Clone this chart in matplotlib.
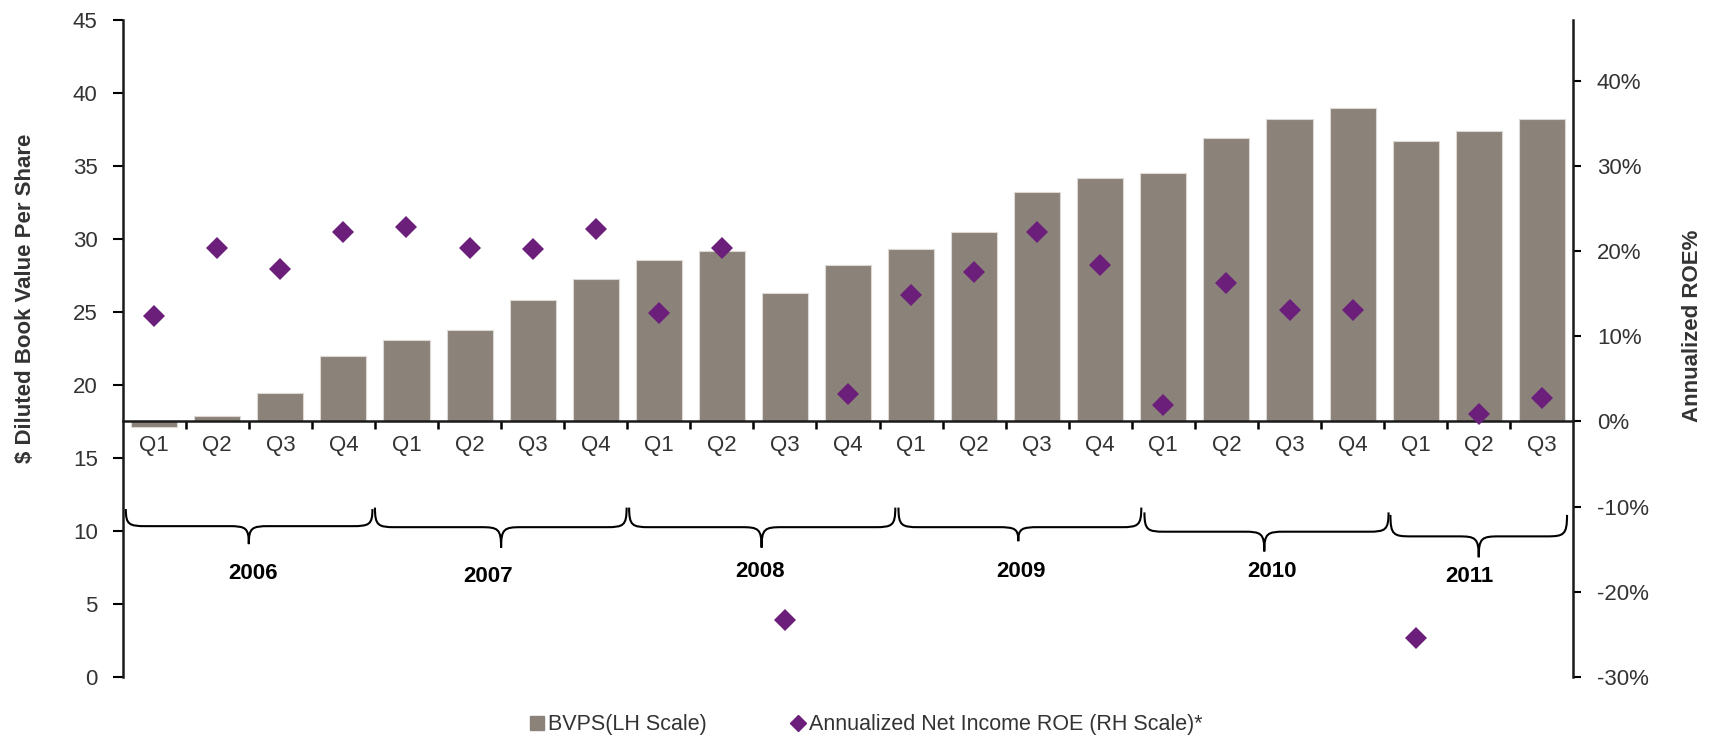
import matplotlib
matplotlib.use("Agg")
import matplotlib.pyplot as plt
from matplotlib.lines import Line2D
from matplotlib.path import Path
from matplotlib.patches import PathPatch
import numpy as np

quarters = ["Q1", "Q2", "Q3", "Q4"] * 5 + ["Q1", "Q2", "Q3"]
years = ["2006", "2007", "2008", "2009", "2010", "2011"]

# diluted book value per share, $ (left scale)
bvps = [17.1, 17.9, 19.45, 21.97, 23.04, 23.77, 25.8, 27.23,
        28.55, 29.14, 26.28, 28.19, 29.28, 30.46, 33.22, 34.15,
        34.54, 36.93, 38.23, 38.96, 36.68, 37.38, 38.23]

# annualized net income ROE, % (right scale)
roe = [12.35, 20.35, 17.85, 22.2, 22.8, 20.35, 20.2, 22.6,
       12.75, 20.4, -23.3, 3.26, 14.8, 17.5, 22.2, 18.3,
       1.9, 16.2, 13.1, 13.1, -25.4, 0.87, 2.7]

BAR_COLOR = "#8b8279"
DOT_COLOR = "#6b1f7b"
TEXT_COLOR = "#333333"
FONT = ["Liberation Sans", "DejaVu Sans"]
plt.rcParams["font.family"] = FONT

# bars grow from the 0% line of the right axis
BASE = 17.5
LEFT_MAX = 45.0
ROE_MIN = -30.0
ROE_MAX = ROE_MIN + LEFT_MAX * (-ROE_MIN) / BASE

# brace geometry per year: x start, x end, tip x, end y, line y, tip y (left units)
braces = [
    (0.05, 3.96, 2.0, 11.5, 10.33, 9.1),
    (4.0, 7.99, 6.0, 11.6, 10.26, 8.86),
    (8.03, 12.25, 10.13, 11.6, 10.26, 8.86),
    (12.3, 16.15, 14.2, 11.6, 10.26, 9.3),
    (16.2, 20.07, 18.1, 11.27, 9.95, 8.6),
    (20.1, 22.9, 21.5, 11.1, 9.63, 8.2),
]
year_pos = [(2.06, 7.1), (5.8, 6.85), (10.1, 7.25), (14.25, 7.25), (18.23, 7.2), (21.35, 6.9)]


def brace_path(x0, x1, xt, ye, yl, yt, r=0.32):
    verts = [
        (x0, ye), (x0, yl + 0.1), (x0 + 0.05, yl), (x0 + r, yl),
        (xt - r, yl),
        (xt - 0.05, yl), (xt, yl - 0.1), (xt, yt),
        (xt, yl - 0.1), (xt + 0.05, yl), (xt + r, yl),
        (x1 - r, yl),
        (x1 - 0.05, yl), (x1, yl + 0.1), (x1, ye),
    ]
    codes = [Path.MOVETO, Path.CURVE4, Path.CURVE4, Path.CURVE4,
             Path.LINETO,
             Path.CURVE4, Path.CURVE4, Path.CURVE4,
             Path.CURVE4, Path.CURVE4, Path.CURVE4,
             Path.LINETO,
             Path.CURVE4, Path.CURVE4, Path.CURVE4]
    return Path(verts, codes)


fig = plt.figure(figsize=(17.18, 7.44), dpi=100)
ax = fig.add_axes([0.0714, 0.090, 0.8444, 0.8835])
ax2 = ax.twinx()

x = np.arange(len(bvps)) + 0.5
heights = [v - BASE for v in bvps]
ax.bar(x, heights, bottom=BASE, width=0.73, color=BAR_COLOR,
       edgecolor="#ddd8d3", linewidth=0.8, zorder=2)
ax2.plot(x, roe, linestyle="none", marker="D", markersize=11,
         color=DOT_COLOR, markeredgewidth=0, zorder=3)

ax.set_xlim(0, len(bvps))
ax.set_ylim(0, LEFT_MAX)
ax2.set_ylim(ROE_MIN, ROE_MAX)

for a in (ax, ax2):
    a.spines["top"].set_visible(False)
    a.set_facecolor("none")
ax2.spines["left"].set_visible(False)
ax2.spines["bottom"].set_visible(False)
ax.spines["right"].set_visible(False)
ax.spines["bottom"].set_position(("data", BASE))
for s in ("left", "bottom"):
    ax.spines[s].set_linewidth(1.8)
    ax.spines[s].set_color("#1a1a1a")
ax2.spines["right"].set_linewidth(1.8)
ax2.spines["right"].set_color("#1a1a1a")
ax.spines["bottom"].set_zorder(4)

ax.set_yticks(np.arange(0, 46, 5))
ax.tick_params(axis="y", direction="out", length=7, width=1.5, pad=11,
               labelsize=16, labelcolor=TEXT_COLOR)
ax2.set_yticks(np.arange(-30, 41, 10))
ax2.set_yticklabels([f"{v}%" for v in range(-30, 41, 10)])
ax2.tick_params(axis="y", direction="out", length=6, width=1.5, pad=11,
                labelsize=16, labelcolor=TEXT_COLOR)

ax.set_xticks(x)
ax.set_xticklabels(quarters)
ax.set_xticks(np.arange(1, len(bvps)), minor=True)
ax.tick_params(axis="x", which="major", length=0, pad=10, labelsize=16,
               labelcolor=TEXT_COLOR)
ax.tick_params(axis="x", which="minor", direction="out", length=6, width=1.8)

ax.set_ylabel("$ Diluted Book Value Per Share", fontsize=16, fontweight="bold",
              color=TEXT_COLOR)
ax.yaxis.set_label_coords(-0.060, 0.576)
ax2.set_ylabel("Annualized ROE%", fontsize=16, fontweight="bold",
               color=TEXT_COLOR)
ax2.yaxis.set_label_coords(1.075, 0.535)

for (x0, x1, xt, ye, yl, yt), (tx, ty), yr in zip(braces, year_pos, years):
    ax.add_patch(PathPatch(brace_path(x0, x1, xt, ye, yl, yt), fill=False,
                           edgecolor="black", linewidth=1.5, zorder=3))
    ax.text(tx, ty, yr, ha="center", va="center", fontsize=16,
            fontweight="bold", color="black")

handles = [
    Line2D([], [], linestyle="none", marker="s", markersize=10, color=BAR_COLOR),
    Line2D([], [], linestyle="none", marker="D", markersize=8, color=DOT_COLOR),
]
fig.legend(handles, ["BVPS(LH Scale)", "Annualized Net Income ROE (RH Scale)*"],
           loc="center", bbox_to_anchor=(0.504, 0.026), ncol=2, frameon=False,
           handlelength=0.7, handletextpad=0.15, columnspacing=3.9,
           fontsize=15.5, labelcolor=TEXT_COLOR)

fig.savefig("out.png", dpi=100)
